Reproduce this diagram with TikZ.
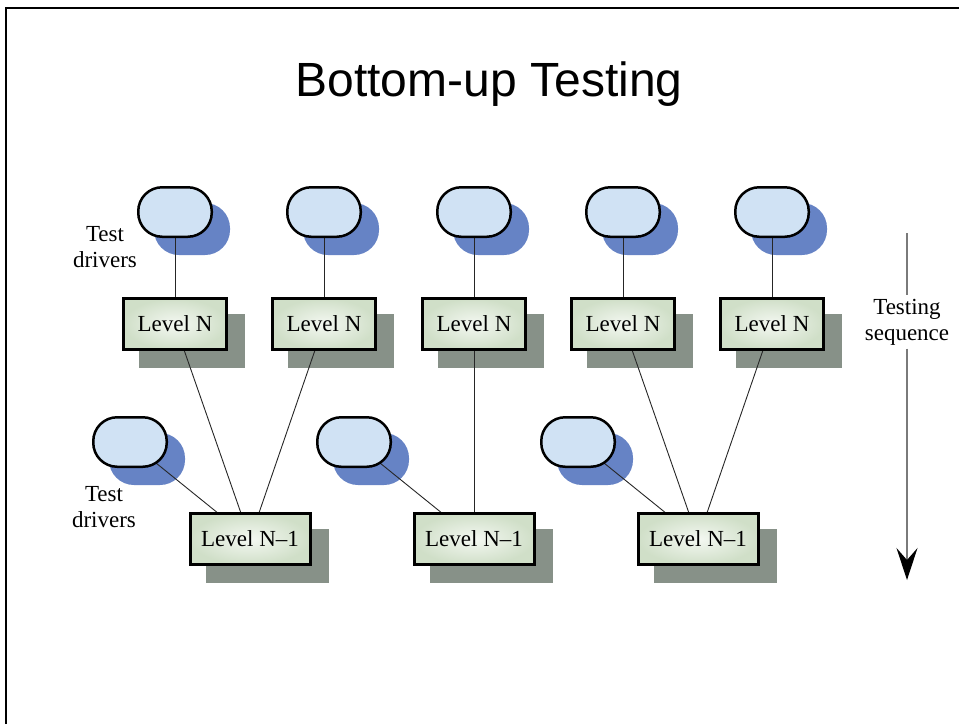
\documentclass[tikz,border=0pt]{standalone}
\usepackage{fontspec}
\setmainfont{Liberation Serif}
\newfontfamily\titlefont{Liberation Sans}
\usetikzlibrary{arrows.meta}

% drawing order: shadows, then connectors, then the nodes themselves
\pgfdeclarelayer{shadowlayer}
\pgfdeclarelayer{linklayer}
\pgfsetlayers{shadowlayer,linklayer,main}

\definecolor{driverfill}{HTML}{D0E2F4}
\definecolor{drivershade}{HTML}{6683C5}
\definecolor{boxshade}{HTML}{879188}
\definecolor{boxinner}{HTML}{F4F8F2}
\definecolor{boxouter}{HTML}{D0DFC8}
\definecolor{seqline}{HTML}{7A7A7A}

\tikzset{
  driver/.style={draw=black, line width=2.5pt, fill=driverfill,
    rounded corners=24pt, minimum width=73.5pt, minimum height=49.5pt,
    inner sep=0pt},
  levelbox/.style={draw=black, line width=3pt, inner color=boxinner,
    outer color=boxouter, minimum height=51pt, inner sep=0pt,
    font=\fontsize{23}{26}\selectfont},
  topbox/.style={levelbox, minimum width=103pt},
  lowbox/.style={levelbox, minimum width=120pt},
  link/.style={draw=black!85, line width=0.9pt},
  lbl/.style={align=center, font=\fontsize{23}{26}\selectfont},
  dshadow/.style={fill=drivershade, rounded corners=25pt},
  bshadow/.style={fill=boxshade},
}

\newcommand{\dropshade}[2]{%
  \begin{pgfonlayer}{shadowlayer}
    \path[#2] ([shift={(17,17)}]#1.south west) rectangle ([shift={(17,17)}]#1.north east);
  \end{pgfonlayer}}

\begin{document}
\begin{tikzpicture}[x=1pt, y=-1pt]
  \useasboundingbox (0,0) rectangle (959,724);

  % page frame
  \draw[line width=2pt] (6,724) -- (6,8) -- (959,8);

  % title
  \node[font=\titlefont\fontsize{48}{56}\selectfont, anchor=base] (title) at (489,96) {Bottom-up Testing};

  % test drivers on top of the Level N modules
  \foreach \i/\x in {1/175, 2/324, 3/474, 4/623, 5/772} {
    \node[driver] (t\i) at (\x,212) {};
    \dropshade{t\i}{dshadow}
    \node[topbox] (n\i) at (\x,324) {Level N};
    \dropshade{n\i}{bshadow}
  }

  % Level N-1 modules and their drivers
  \foreach \i/\x in {1/250, 2/474, 3/698} {
    \node[lowbox] (m\i) at (\x,539) {Level N--1};
    \dropshade{m\i}{bshadow}
    \node[driver] (d\i) at (\x-120,442) {};
    \dropshade{d\i}{dshadow}
  }

  % labels
  \node[lbl] (lblA) at (105,247) {Test\\drivers};
  \node[lbl] (lblB) at (104,507) {Test\\drivers};

  % connectors
  \begin{pgfonlayer}{linklayer}
    \foreach \i in {1,...,5} { \draw[link] (t\i.center) -- (n\i.center); }
    \foreach \i in {1,2,3} { \draw[link] (d\i.center) -- (m\i.center); }
    \draw[link] (n1.center) -- (m1.center);
    \draw[link] (n2.center) -- (m1.center);
    \draw[link] (n3.center) -- (m2.center);
    \draw[link] (n4.center) -- (m3.center);
    \draw[link] (n5.center) -- (m3.center);
  \end{pgfonlayer}

  % testing sequence arrow
  \node[lbl] (seq) at (907,322) {Testing\\sequence};
  \coordinate (seqtop) at (907,233);
  \coordinate (seqend) at (907,580);
  \draw[seqline, line width=1.2pt] (seqtop) -- (seq);
  \draw[seqline, line width=1.2pt, -{Stealth[length=32pt, width=21pt, inset=12pt, black]}] (seq) -- (seqend);
\end{tikzpicture}
\end{document}
